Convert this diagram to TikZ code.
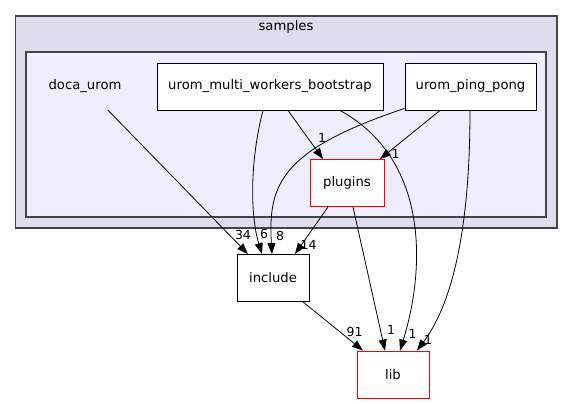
\documentclass[tikz,border=0pt]{standalone}
\usepackage{fontspec}
\setmainfont{DejaVu Sans}
\usetikzlibrary{arrows.meta}
\definecolor{clusterout}{HTML}{DDDDEE}
\definecolor{clusterin}{HTML}{EEEEFF}
\definecolor{clusterline}{HTML}{444444}
\begin{document}
\begin{tikzpicture}[
    x = 1pt, y = -1pt,
    font = \fontsize{13.2}{15}\selectfont,
    cluster/.style = {
      rectangle,
      draw = clusterline, line width = 1.2pt,
      inner sep = 0,
    },
    dir/.style = {
      rectangle,
      draw = black, line width = 0.9pt,
      fill = white,
      minimum height = 47pt,
      inner sep = 0,
    },
    reddir/.style = {
      dir,
      draw = red,
    },
    plain/.style = {
      inner sep = 0,
    },
    dep/.style = {
      -{Triangle[length = 11pt, width = 8pt]},
      line width = 0.8pt,
    },
    num/.style = {
      inner sep = 0,
      font = \fontsize{12.5}{14}\selectfont,
    }
  ]
  \useasboundingbox (0,0) rectangle (573,404);
  \node[cluster, fill = clusterout, minimum width = 541.5pt, minimum height = 212pt] (samples) at (286.25,122) {};
  \node[plain] (samplesname) at (286,27) {samples};
  \node[cluster, fill = clusterin, minimum width = 520pt, minimum height = 165pt] (docaurom) at (286,134.5) {};
  \node[plain, minimum width = 90pt, minimum height = 47pt] (doca) at (85,86.5) {doca\_urom};
  \node[dir, minimum width = 226pt] (multi) at (270,86.5) {urom\_multi\_workers\_bootstrap};
  \node[dir, minimum width = 131pt] (ping) at (470.5,86.5) {urom\_ping\_pong};
  \node[reddir, minimum width = 74pt] (plugins) at (347,183) {plugins};
  \node[dir, minimum width = 72pt] (include) at (273,278) {include};
  \node[reddir, minimum width = 72pt] (lib) at (393,374.5) {lib};

  \draw[dep] ([xshift = 23pt]doca.south) -- ([xshift = -25pt]include.north);
  \draw[dep] ([xshift = -7pt]multi.south) .. controls (250,160) and (250,215) .. ([xshift = -11pt]include.north);
  \draw[dep] ([xshift = 18pt]multi.south) -- ([xshift = -24pt]plugins.north);
  \draw[dep] ([xshift = 70pt]multi.south) .. controls (430,160) and (425,270) .. ([xshift = 7pt]lib.north);
  \draw[dep] ([yshift = 2pt]ping.south west) .. controls (280,150) and (268,185) .. ([xshift = -1pt]include.north);
  \draw[dep] ([xshift = -30.5pt]ping.south) -- ([xshift = 33pt]plugins.north);
  \draw[dep] ([xshift = -0.5pt]ping.south) .. controls (470,220) and (455,300) .. ([xshift = 24pt]lib.north);
  \draw[dep] ([xshift = -19pt]plugins.south) -- ([xshift = 22pt]include.north);
  \draw[dep] ([xshift = 6pt]plugins.south) -- ([xshift = -8pt]lib.north);
  \draw[dep] ([xshift = 30pt]include.south) -- ([xshift = -30pt]lib.north);

  \node[num] (n34) at (243,235) {34};
  \node[num] (n6) at (264,234) {6};
  \node[num] (n8) at (280,236) {8};
  \node[num] (n14) at (308.5,245) {14};
  \node[num] (nmp) at (322,138) {1};
  \node[num] (npp) at (395.5,153.5) {1};
  \node[num] (n91) at (354.5,332) {91};
  \node[num] (npl) at (391,329.5) {1};
  \node[num] (nml) at (412.5,333.5) {1};
  \node[num] (nppl) at (428,340) {1};
\end{tikzpicture}
\end{document}
